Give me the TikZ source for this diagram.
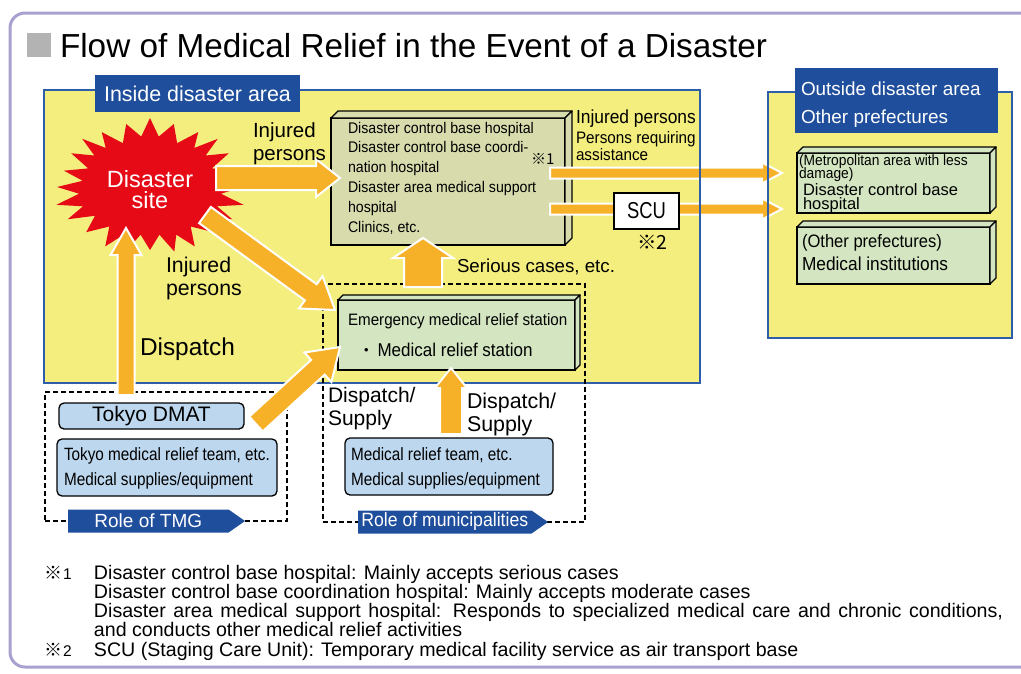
\documentclass[tikz,border=0pt]{standalone}
\usepackage{fontspec}
\setmainfont{Liberation Sans}
\newfontfamily\cjk{Noto Sans CJK JP}
\newfontfamily\cnd[FakeStretch=0.92]{Liberation Sans}
\newfontfamily\cndb[FakeStretch=0.86]{Liberation Sans}
\newfontfamily\cndc[FakeStretch=0.8]{Liberation Sans}
\newfontfamily\plainsans{Liberation Sans}
\usetikzlibrary{calc,shapes.symbols}

\definecolor{framec}{HTML}{A9A0CF}
\definecolor{areayellow}{HTML}{F3EE7E}
\definecolor{areablue}{HTML}{2E5DAA}
\definecolor{labelblue}{HTML}{1F4E9C}
\definecolor{arroworange}{HTML}{F6B128}
\definecolor{sitered}{HTML}{E60A17}
\definecolor{hospfill}{HTML}{D8DCAD}
\definecolor{greenfill}{HTML}{D4E5C1}
\definecolor{bluefill}{HTML}{BDD7EE}
\definecolor{titlegray}{HTML}{B3B3B3}

\newcommand\setfs[2]{\fontsize{#1}{#2}\selectfont}
\newcommand\Lft[1]{\vtop{\lineskiplimit=-100pt\halign{##\hfil\cr#1\crcr}}}
\newcommand\Ctr[1]{\vtop{\lineskiplimit=-100pt\halign{\hfil##\hfil\cr#1\crcr}}}
\newcommand\boxtext[2]{\makebox[#1][l]{\Lft{#2}}}
\newcommand\NoteTable[1]{\vtop{\lineskiplimit=-100pt\halign{\hbox to 49pt{##\hfil}&##\hfil\cr#1\crcr}}}
\newcommand\extrude[3]{%
  \draw[boxedge, fill=#3] (#1.north west) -- ++(#2,-#2) -- ($(#1.north east)+(#2,-#2)$) -- (#1.north east) -- cycle;
  \draw[boxedge, fill=#3] (#1.north east) -- ++(#2,-#2) -- ($(#1.south east)+(#2,-#2)$) -- (#1.south east) -- cycle;}
\newcommand\barrow[5]{%
  \coordinate (bh) at ($(#2)!#5pt!(#1)$);
  \draw[blockarrow] ($(#1)!#3pt!90:(#2)$) -- ($(bh)!#3pt!90:(#2)$) -- ($(bh)!#4pt!90:(#2)$) -- (#2)
    -- ($(bh)!#4pt!-90:(#2)$) -- ($(bh)!#3pt!-90:(#2)$) -- ($(#1)!#3pt!-90:(#2)$) -- cycle;}

\begin{document}
\begin{tikzpicture}[x=1pt,y=-1pt,
  area/.style={draw=areablue, line width=2pt, fill=areayellow, inner sep=0pt, outer sep=0pt},
  areatitle/.style={fill=labelblue, text=white, inner sep=0pt, outer sep=0pt},
  face/.style={draw=black, line width=1.3pt, inner sep=0pt, outer sep=0pt},
  boxedge/.style={draw=black, line width=1.3pt, line join=round},
  team/.style={draw=black, line width=1.3pt, fill=bluefill, rounded corners=5pt, inner sep=0pt, outer sep=0pt},
  dashbox/.style={draw=black, line width=2pt, dash pattern=on 5pt off 3pt, inner sep=0pt, outer sep=0pt},
  rolelbl/.style={signal, signal to=east, signal pointer angle=70, fill=labelblue, text=white, inner sep=0pt, outer sep=0pt},
  blockarrow/.style={fill=arroworange, draw=white, line width=2pt, line join=miter},
  lbl/.style={anchor=base west, inner sep=0pt, outer sep=0pt},
]
\useasboundingbox (0,0) rectangle (1021,673);

% outer frame and title
\draw[draw=framec, line width=3pt, rounded corners=15pt] (10,13) rectangle (1070,667);
\node[fill=titlegray, minimum width=24pt, minimum height=24pt, inner sep=0pt, anchor=north west] (titlemark) at (27,33) {};
\node[lbl, font=\setfs{33.3}{40}] (title) at (60,57) {Flow of Medical Relief in the Event of a Disaster};

% areas
\node[area, minimum width=656pt, minimum height=293pt, anchor=north west] (inside) at (44,90) {};
\node[areatitle, minimum width=205pt, minimum height=37pt, anchor=north west, font=\setfs{21.4}{25}] (insidelbl) at (95,75) {Inside disaster area};
\node[area, minimum width=244pt, minimum height=246pt, anchor=north west] (outside) at (768,92) {};
\node[areatitle, minimum width=203pt, minimum height=65pt, anchor=north west, font=\setfs{18.9}{28}, text height=0pt, text depth=11pt] (outsidelbl) at (795,68) {\boxtext{191pt}{Outside disaster area\cr Other prefectures}};

% role frames
\node[dashbox, minimum width=242pt, minimum height=129pt, anchor=north west] (tmgframe) at (45,392) {};
\node[dashbox, minimum width=262pt, minimum height=238pt, anchor=north west] (muniframe) at (323,284) {};

% 3D boxes
\node[face, fill=hospfill, minimum width=234pt, minimum height=127pt, anchor=north west, font=\cnd\setfs{15.4}{19.8}, text height=0pt, text depth=97pt] (hosp) at (331,118)
  {\boxtext{200pt}{Disaster control base hospital\cr Disaster control base coordi-\cr nation hospital\cr Disaster area medical support\cr hospital\cr Clinics, etc.}};
\extrude{hosp}{7}{hospfill}
\node[face, fill=greenfill, minimum width=237pt, minimum height=70pt, anchor=north west, font=\cnd\setfs{16.5}{31}, text height=0pt, text depth=20pt] (emerg) at (338,300)
  {\boxtext{217pt}{Emergency medical relief station\cr \hspace*{10pt}{\cjk ・}\hspace{3pt}{\setfs{18.5}{31}Medical relief station}}};
\extrude{emerg}{5}{greenfill}
\node[face, fill=greenfill, minimum width=193pt, minimum height=60pt, anchor=north west, font=\cnd\setfs{15}{13}, text height=0pt, text depth=36pt] (out1) at (797,153)
  {\boxtext{189pt}{(Metropolitan area with less\cr damage)\cr\noalign{\vskip4pt}\hspace*{4pt}{\plainsans\setfs{16.5}{14}Disaster control base}\cr\noalign{\vskip1pt}\hspace*{4pt}{\plainsans\setfs{16.5}{14}hospital}}};
\extrude{out1}{6}{greenfill}
\node[face, fill=greenfill, minimum width=193pt, minimum height=57pt, anchor=north west, font=\cnd\setfs{18}{23}, text height=0pt, text depth=17pt] (out2) at (797,227)
  {\boxtext{183pt}{(Other prefectures)\cr {\setfs{18.8}{23}Medical institutions}}};
\extrude{out2}{6}{greenfill}

% disaster site
\fill[sitered] plot[samples at={0,7.5,...,352.5}, variable=\t]
  ({150+(1-0.25*mod(round(\t/7.5),2))*(93+4*sin(5*\t))*cos(\t)},
   {187+(1-0.25*mod(round(\t/7.5),2))*(66+3*sin(7*\t))*sin(\t)}) -- cycle;
\node[anchor=base, inner sep=0pt, text=white, font=\setfs{23.5}{21.5}] (site) at (150,187) {\Ctr{Disaster\cr site}};

% team boxes
\node[team, minimum width=185pt, minimum height=26pt, anchor=north west, font=\setfs{21}{25}] (dmat) at (59,403) {Tokyo DMAT};
\node[team, minimum width=220pt, minimum height=57pt, anchor=north west, font=\cndb\setfs{17.8}{25}, text height=0pt, text depth=15pt] (tmgteam) at (57,439)
  {\boxtext{206pt}{Tokyo medical relief team, etc.\cr Medical supplies/equipment}};
\node[team, minimum width=208pt, minimum height=57pt, anchor=north west, font=\cndb\setfs{17.8}{25}, text height=0pt, text depth=13pt] (muniteam) at (345,438)
  {\boxtext{196pt}{Medical relief team, etc.\cr Medical supplies/equipment}};

% arrows
\coordinate (a1s) at (216,178); \coordinate (a1e) at (340,178);
\coordinate (a2s) at (205,215); \coordinate (a2e) at (335,310);
\coordinate (a3s) at (126,395); \coordinate (a3e) at (126,228);
\coordinate (a4s) at (256,424); \coordinate (a4e) at (340,347);
\coordinate (a5s) at (423,287); \coordinate (a5e) at (423,238);
\coordinate (a6s) at (451,434); \coordinate (a6e) at (451,368);
\coordinate (a7s) at (550,173); \coordinate (a7e) at (782,173);
\coordinate (a8s) at (550,209); \coordinate (a8e) at (782,209);
\barrow{a1s}{a1e}{12}{19}{24}
\barrow{a2s}{a2e}{10}{20}{30}
\barrow{a3s}{a3e}{8.5}{15.5}{27}
\barrow{a4s}{a4e}{10}{20}{30}
\barrow{a5s}{a5e}{19}{30}{20}
\barrow{a6s}{a6e}{11}{16}{20}
\barrow{a7s}{a7e}{5.5}{10.5}{20}
\barrow{a8s}{a8e}{5.5}{10.5}{20}
\draw[areablue, line width=2pt] (inside.north east) -- (inside.south east);
\draw[areablue, line width=2pt] (outside.north west) -- (outside.south west);

\node[face, fill=white, minimum width=65pt, minimum height=36pt, anchor=north west, font=\cndc\setfs{23}{25}] (scu) at (614,193) {SCU};

% role labels
\node[rolelbl, minimum width=177pt, minimum height=23pt, anchor=west, font=\setfs{19}{22}] (tmgrole) at (68,521) {Role of TMG};
\node[rolelbl, minimum width=190pt, minimum height=23pt, anchor=west, font=\cnd\setfs{19.2}{22}] (munirole) at (358,522) {Role of municipalities};

% free labels
\node[lbl, font=\setfs{20.5}{23}] (injured1) at (253,137) {\Lft{Injured\cr persons}};
\node[lbl, font=\setfs{21.3}{23}] (injured2) at (166,272) {\Lft{Injured\cr persons}};
\node[lbl, font=\setfs{24.4}{28}] (dispatch) at (140,355) {Dispatch};
\node[lbl, font=\setfs{18.7}{22}] (serious) at (457,272) {Serious cases, etc.};
\node[lbl, font=\cnd\setfs{16.6}{17}] (transfer) at (576,123) {\Lft{{\setfs{18.9}{17}Injured persons}\cr\noalign{\vskip3pt}Persons requiring\cr assistance}};
\node[lbl, font=\setfs{21}{23}] (dsleft) at (328,402) {\Lft{Dispatch/\cr Supply}};
\node[lbl, font=\setfs{21.4}{23}] (dsright) at (467,408) {\Lft{Dispatch/\cr Supply}};
\node[lbl, font=\cjk\setfs{19.5}{22}] (scunote) at (637,249) {※2};
\node[lbl, font=\cjk\setfs{15}{15}] (hospnote) at (531,164) {※1};

% footnotes
\node[lbl, font=\setfs{19.6}{19.25}] (notes) at (45,579) {\NoteTable{%
{\cjk\setfs{18}{15}※}{\setfs{15.5}{15}1}&Disaster control base hospital: Mainly accepts serious cases\cr
&Disaster control base coordination hospital: Mainly accepts moderate cases\cr
&\hbox to 909pt{Disaster area medical support hospital: Responds to specialized medical care and chronic conditions,}\cr
&and conducts other medical relief activities\cr
{\cjk\setfs{18}{15}※}{\setfs{15.5}{15}2}&SCU (Staging Care Unit): Temporary medical facility service as air transport base}};
\end{tikzpicture}
\end{document}
